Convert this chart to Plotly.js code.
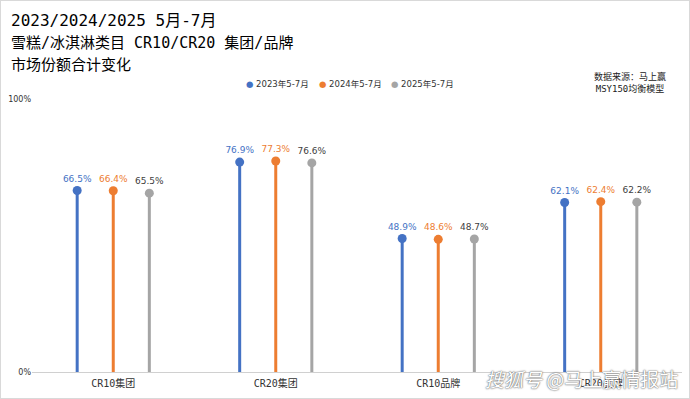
<!DOCTYPE html>
<html><head><meta charset="utf-8">
<script src="https://cdn.plot.ly/plotly-3.0.1.min.js"></script>
<style>
html,body{margin:0;padding:0;background:#fff;}
#c{width:690px;height:399px;box-sizing:border-box;border:1px solid #d9d9d9;}
</style></head>
<body><div id="c"></div>
<script>
const categories = ["CR10集团","CR20集团","CR10品牌","CR20品牌"];
const seriesNames = ["2023年5-7月","2024年5-7月","2025年5-7月"];
const v2023 = [0.665,0.769,0.489,0.621];
const v2024 = [0.664,0.773,0.486,0.624];
const v2025 = [0.655,0.766,0.487,0.622];
const labels2023 = ["66.5%","76.9%","48.9%","62.1%"];
const labels2024 = ["66.4%","77.3%","48.6%","62.4%"];
const labels2025 = ["65.5%","76.6%","48.7%","62.2%"];

const colors = ["#4472C4","#ED7D31","#A5A5A5"];
const textColors = ["#4472C4","#ED7D31","#404040"];
const offsets = [-0.222,0,0.222];
const allVals = [v2023,v2024,v2025];
const allLabels = [labels2023,labels2024,labels2025];

const traces = allVals.map((vals,i)=>({
  type:'scatter', mode:'markers+text', name:seriesNames[i],
  x: categories.map((_,k)=>k+offsets[i]), y: vals,
  text: allLabels[i], textposition:'top center',
  textfont:{family:'"DejaVu Sans", sans-serif', size:9, color:textColors[i]},
  marker:{color:colors[i], size:9},
  error_y:{type:'data', symmetric:false, array:vals.map(()=>0), arrayminus:vals, thickness:3, width:0, color:colors[i]},
  cliponaxis:false, showlegend:false, hoverinfo:'none'
}));

const cjk = '"DejaVu Sans Mono","Noto Sans CJK SC",monospace';
const layout = {
  width:688, height:397,
  margin:{l:31,r:7,t:98,b:26},
  paper_bgcolor:'#fff', plot_bgcolor:'#fff',
  showlegend:false,
  xaxis:{range:[-0.5,3.5], tickvals:[0,1,2,3], ticktext:categories, showgrid:false, zeroline:false,
    showline:false, ticks:'', ticklabelstandoff:4, tickfont:{family:cjk,size:10,color:'#333'}, fixedrange:true},
  yaxis:{range:[0,1], tickvals:[0,1], ticktext:['0%','100%'], showgrid:true, gridcolor:'#e8e8e8', gridwidth:1,
    zeroline:true, zerolinecolor:'#d0d0d0', zerolinewidth:1, ticks:'', tickfont:{family:'"DejaVu Sans",sans-serif',size:8,color:'#333'}, fixedrange:true},
  annotations:[
    {xref:'paper',yref:'paper',x:-0.035,y:1.289,xanchor:'left',yanchor:'middle',showarrow:false,align:'left',
     text:'2023/2024/2025 5月-7月',font:{family:cjk,size:16,color:'#000'}},
    {xref:'paper',yref:'paper',x:-0.035,y:1.205,xanchor:'left',yanchor:'middle',showarrow:false,align:'left',
     text:'雪糕/冰淇淋类目 CR10/CR20 集团/品牌',font:{family:cjk,size:15,color:'#000'}},
    {xref:'paper',yref:'paper',x:-0.035,y:1.125,xanchor:'left',yanchor:'middle',showarrow:false,align:'left',
     text:'市场份额合计变化',font:{family:cjk,size:15,color:'#000'}},
    {xref:'paper',yref:'paper',x:0.92,y:1.062,xanchor:'center',yanchor:'middle',showarrow:false,
     text:'数据来源：马上赢<br>MSY150均衡模型',font:{family:cjk,size:9,color:'#222'}},
    {xref:'paper',yref:'paper',x:0.997,y:-0.022,xanchor:'right',yanchor:'middle',showarrow:false,
     text:'<i>搜狐号</i> @马上赢情报站',font:{family:'"Noto Sans CJK SC",sans-serif',size:19,color:'#ffffff',shadow:'0 0 2px #666, 0 0 1px #666'}}
  ]
};
const legX = [0.326,0.438,0.549];
seriesNames.forEach((n,i)=>{
  layout.annotations.push({xref:'paper',yref:'paper',x:legX[i],y:1.055,xanchor:'left',yanchor:'middle',showarrow:false,
    text:'<span style="color:'+colors[i]+'">●</span> '+n,font:{family:'"DejaVu Sans","Noto Sans CJK SC",sans-serif',size:8.5,color:'#333'}});
});
Plotly.newPlot('c',traces,layout,{displayModeBar:false,staticPlot:true});
</script></body></html>
